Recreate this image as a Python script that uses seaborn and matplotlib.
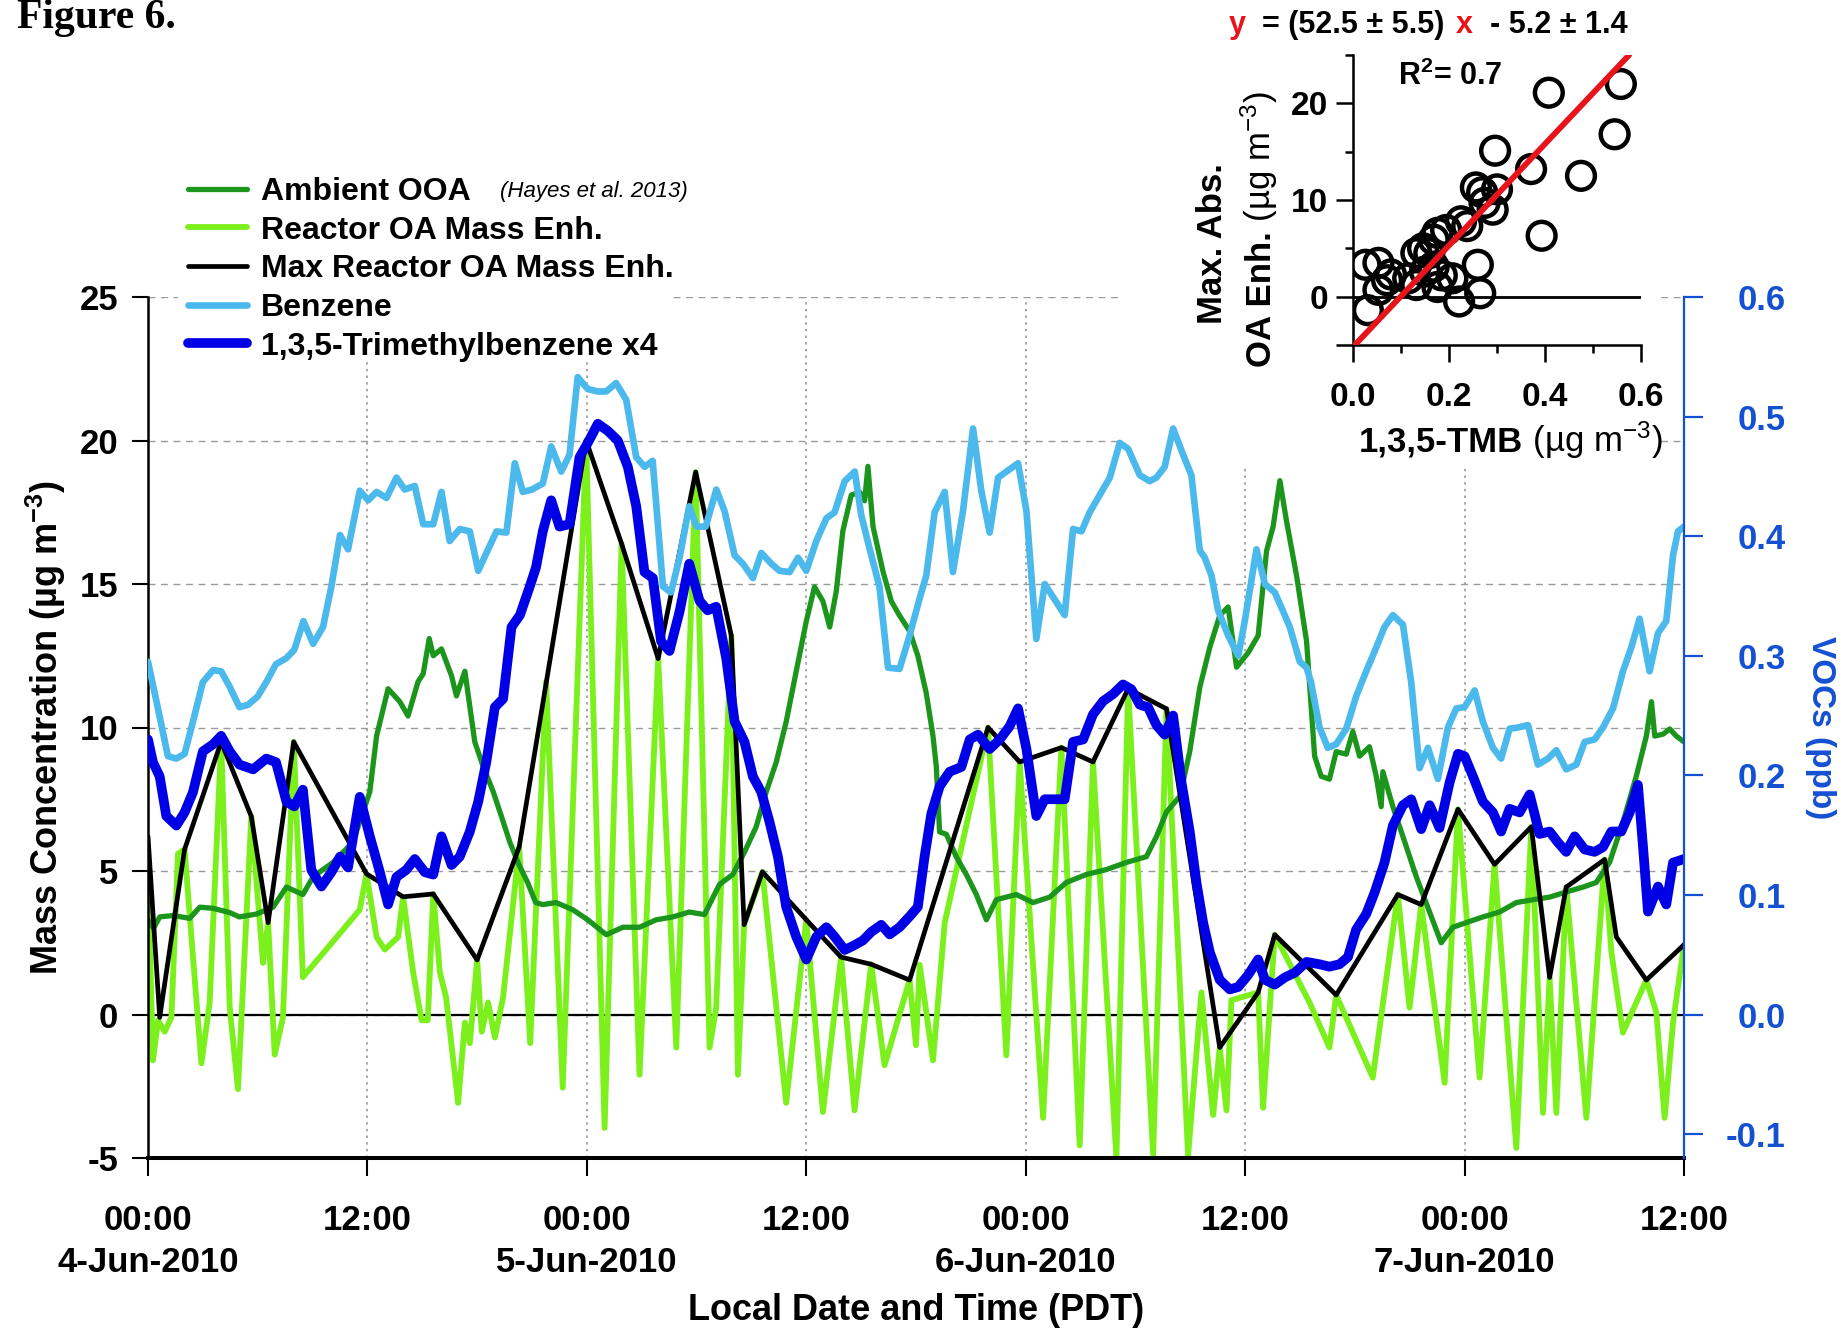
import numpy as np
import pandas as pd
import matplotlib
matplotlib.use("Agg")
import matplotlib.pyplot as plt
from matplotlib.patches import Rectangle
import seaborn as sns

# ---------------- time series (hours after 00:00 PDT, 4 June 2010) ----------------
# Ambient OOA, ug m-3
ooa_points = [
    (0.0, 3.3), (0.3, 3.0), (0.64, 3.4), (1.37, 3.45), (2.28, 3.35), (2.83, 3.74), (3.56, 3.7), (4.47, 3.55),
    (5.0, 3.4), (5.93, 3.5), (6.84, 3.74), (7.57, 4.44), (8.47, 4.18), (9.03, 4.8), (10.12, 5.3), (11.2, 6.0),
    (12.13, 7.76), (12.5, 9.7), (13.13, 11.35), (13.77, 10.9), (14.22, 10.4), (14.77, 11.6), (15.05, 11.87),
    (15.38, 13.1), (15.6, 12.5), (16.05, 12.74), (16.6, 11.8), (16.87, 11.1), (17.33, 11.96), (17.87, 9.5),
    (18.33, 8.64), (18.88, 7.76), (19.33, 6.9), (19.79, 6.0), (20.3, 5.2), (20.76, 4.6), (21.2, 3.9),
    (21.59, 3.83), (22.32, 3.9), (23.23, 3.65), (24.05, 3.3), (25.06, 2.78), (25.97, 3.04), (26.88, 3.04),
    (27.79, 3.3), (28.7, 3.4), (29.6, 3.57), (30.43, 3.48), (31.25, 4.53), (31.98, 4.88), (32.62, 5.66),
    (33.26, 6.54), (33.81, 7.76), (34.36, 8.8), (34.9, 10.2), (35.45, 11.96), (36.0, 13.7), (36.45, 14.9),
    (36.91, 14.4), (37.28, 13.5), (37.64, 14.75), (38.0, 16.85), (38.46, 18.1), (38.92, 18.2), (39.19, 17.9),
    (39.37, 19.1), (39.65, 17.0), (40.19, 15.45), (40.65, 14.4), (41.1, 13.9), (41.65, 13.36), (42.1, 12.5),
    (42.56, 11.2), (42.93, 9.7), (43.11, 8.64), (43.29, 6.36), (43.66, 6.28), (44.2, 5.5), (44.75, 4.88),
    (45.3, 4.18), (45.85, 3.3), (46.39, 4.0), (47.49, 4.18), (48.4, 3.9), (49.31, 4.09), (50.22, 4.6),
    (51.32, 4.88), (52.41, 5.05), (53.51, 5.3), (54.6, 5.5), (55.15, 6.2), (55.7, 7.06), (56.43, 7.6),
    (56.97, 9.16), (57.52, 11.4), (58.07, 12.8), (58.61, 13.9), (59.07, 14.2), (59.53, 12.1), (60.16, 12.6),
    (60.71, 13.2), (61.17, 16.15), (61.53, 17.0), (61.9, 18.6), (62.26, 17.2), (62.81, 15.3), (63.36, 13.0),
    (63.8, 9.0), (64.16, 8.3), (64.61, 8.2), (64.98, 9.16), (65.53, 9.07), (65.89, 9.86), (66.26, 9.0),
    (66.8, 9.33), (67.17, 8.3), (67.44, 7.24), (67.53, 8.46), (68.08, 7.24), (68.63, 6.2), (69.36, 4.8),
    (70.09, 3.57), (70.72, 2.5), (71.36, 3.04), (72.09, 3.2), (73.0, 3.4), (73.91, 3.57), (74.83, 3.9),
    (75.74, 4.0), (76.65, 4.09), (77.56, 4.27), (78.48, 4.44), (79.2, 4.6), (79.93, 5.3), (80.66, 6.7),
    (81.39, 8.3), (81.94, 9.7), (82.22, 10.9), (82.4, 9.7), (82.86, 9.77), (83.22, 9.95), (83.58, 9.7),
    (84.0, 9.5),
]

# Reactor OA mass enhancement, ug m-3
reactor_points = [
    (0.0, 5.0), (0.27, -1.6), (0.55, -0.2), (0.91, -0.6), (1.28, -0.1), (1.64, 5.6), (2.0, 5.75), (2.46, 2.0),
    (2.92, -1.7), (3.37, 0.4), (4.0, 9.5), (4.47, 0.24), (4.92, -2.6), (5.65, 6.9), (6.29, 1.8), (6.57, 3.2),
    (6.93, -1.4), (7.38, -0.1), (7.97, 9.5), (8.47, 1.3), (11.58, 3.65), (11.95, 4.9), (12.5, 2.7),
    (12.95, 2.26), (13.68, 2.7), (13.95, 4.1), (14.5, 1.47), (14.96, -0.2), (15.3, -0.2), (15.6, 4.2),
    (15.96, 1.47), (16.3, 0.6), (16.96, -3.08), (17.33, -0.28), (17.6, -1.0), (18.0, 1.9), (18.25, -0.6),
    (18.6, 0.42), (18.97, -0.8), (19.42, 0.6), (20.3, 5.84), (20.9, -1.0), (21.77, 11.6), (22.68, -2.55),
    (23.96, 20.0), (24.97, -3.95), (25.9, 16.4), (26.88, -2.1), (27.9, 12.4), (28.89, -1.15), (29.95, 18.9),
    (30.71, -1.15), (31.07, 0.24), (31.9, 13.2), (32.26, -2.1), (32.6, 3.13), (33.6, 4.97), (34.9, -3.08),
    (36.0, 3.3), (36.91, -3.4), (37.9, 2.0), (38.64, -3.34), (39.55, 1.75), (40.28, -1.77), (41.65, 1.2),
    (42.0, -1.07), (42.2, 1.73), (42.93, -1.6), (43.57, 3.2), (45.94, 10.0), (46.94, -1.42), (47.67, 8.8),
    (48.95, -3.6), (49.95, 9.3), (50.95, -4.56), (51.68, 8.8), (52.96, -5.0), (53.6, 11.35), (54.97, -4.9),
    (55.7, 10.65), (56.88, -4.9), (57.61, 0.77), (58.25, -3.5), (58.61, -1.15), (58.98, -3.34), (59.25, 0.5),
    (60.71, 0.77), (60.98, -3.25), (61.62, 2.78), (63.52, 0.42), (64.61, -1.15), (64.98, 0.68), (65.89, -0.63),
    (66.98, -2.2), (68.35, 4.18), (68.99, 0.24), (69.63, 3.83), (70.91, -2.38), (71.64, 7.15), (72.82, -2.2),
    (73.64, 5.23), (74.83, -4.65), (75.65, 6.54), (76.29, -3.43), (76.65, 1.29), (77.02, -3.43), (77.56, 4.44),
    (78.66, -3.6), (79.66, 5.4), (80.03, 2.17), (80.66, -0.63), (81.94, 1.2), (82.49, 0.07), (82.94, -3.6),
    (83.4, -0.28), (84.0, 2.43),
]

# Maximum reactor OA mass enhancement, ug m-3
max_points = [
    (0.0, 6.2), (0.64, -0.1), (2.0, 5.75), (4.0, 9.5), (5.65, 6.9), (6.57, 3.2), (7.97, 9.5), (11.95, 4.9),
    (13.95, 4.1), (15.6, 4.2), (18.0, 1.9), (20.3, 5.84), (23.96, 20.0), (25.9, 16.4), (27.9, 12.4),
    (29.95, 18.9), (31.9, 13.2), (32.6, 3.13), (33.6, 4.97), (36.0, 3.3), (37.9, 2.0), (39.55, 1.75),
    (41.65, 1.2), (45.94, 10.0), (47.67, 8.8), (49.95, 9.3), (51.68, 8.8), (53.6, 11.35), (55.7, 10.65),
    (58.61, -1.15), (60.71, 0.77), (61.62, 2.78), (64.98, 0.68), (68.35, 4.18), (69.63, 3.83), (71.64, 7.15),
    (73.64, 5.23), (75.65, 6.54), (76.65, 1.29), (77.56, 4.44), (79.66, 5.4), (80.3, 2.7), (81.94, 1.2),
    (84.0, 2.43),
]

# Benzene, ppb
benzene_points = [
    (0.0, 0.295), (0.46, 0.262), (1.09, 0.216), (1.55, 0.214), (2.0, 0.218), (2.46, 0.245), (3.0, 0.278),
    (3.56, 0.288), (4.0, 0.287), (4.47, 0.274), (5.0, 0.257), (5.47, 0.259), (6.0, 0.266), (6.47, 0.278),
    (7.0, 0.293), (7.57, 0.298), (8.0, 0.305), (8.5, 0.329), (9.03, 0.310), (9.57, 0.324), (10.03, 0.358),
    (10.5, 0.401), (10.94, 0.389), (11.58, 0.438), (12.04, 0.430), (12.5, 0.437), (13.04, 0.432),
    (13.59, 0.449), (14.04, 0.439), (14.59, 0.442), (15.05, 0.410), (15.6, 0.410), (16.05, 0.437),
    (16.5, 0.396), (17.05, 0.406), (17.6, 0.404), (18.06, 0.371), (18.6, 0.389), (19.06, 0.404),
    (19.6, 0.403), (20.06, 0.461), (20.5, 0.437), (21.0, 0.439), (21.59, 0.444), (22.05, 0.475),
    (22.6, 0.454), (23.05, 0.468), (23.5, 0.533), (24.05, 0.523), (24.6, 0.521), (25.06, 0.521),
    (25.6, 0.528), (26.15, 0.514), (26.7, 0.466), (27.16, 0.458), (27.6, 0.463), (28.16, 0.358),
    (28.6, 0.353), (29.07, 0.382), (29.6, 0.425), (30.0, 0.408), (30.5, 0.408), (31.08, 0.439),
    (31.53, 0.421), (32.08, 0.384), (32.53, 0.377), (33.08, 0.365), (33.54, 0.386), (34.09, 0.377),
    (34.54, 0.371), (35.09, 0.370), (35.55, 0.382), (36.0, 0.371), (36.55, 0.396), (37.1, 0.415),
    (37.55, 0.420), (38.1, 0.446), (38.65, 0.454), (39.0, 0.418), (39.47, 0.389), (40.0, 0.358),
    (40.47, 0.290), (41.1, 0.289), (41.65, 0.317), (42.2, 0.348), (42.56, 0.367), (43.02, 0.420),
    (43.57, 0.437), (44.02, 0.370), (44.57, 0.421), (45.12, 0.490), (45.57, 0.438), (46.03, 0.403),
    (46.49, 0.449), (47.58, 0.461), (48.04, 0.421), (48.58, 0.314), (49.04, 0.360), (50.13, 0.334),
    (50.59, 0.406), (51.05, 0.404), (51.5, 0.420), (52.6, 0.449), (53.14, 0.478), (53.6, 0.473),
    (54.24, 0.451), (54.78, 0.446), (55.15, 0.449), (55.6, 0.458), (56.06, 0.490), (56.61, 0.468),
    (57.06, 0.451), (57.52, 0.388), (57.79, 0.382), (58.16, 0.367), (58.52, 0.338), (59.07, 0.317),
    (59.62, 0.300), (59.98, 0.329), (60.62, 0.389), (61.08, 0.360), (61.62, 0.353), (62.08, 0.337),
    (62.44, 0.324), (62.99, 0.295), (63.36, 0.290), (63.6, 0.278), (64.07, 0.240), (64.52, 0.223),
    (64.98, 0.226), (65.53, 0.239), (66.07, 0.266), (66.62, 0.287), (67.17, 0.307), (67.62, 0.324),
    (68.08, 0.334), (68.63, 0.326), (69.08, 0.278), (69.54, 0.206), (70.0, 0.223), (70.54, 0.197),
    (71.09, 0.240), (71.55, 0.256), (72.0, 0.257), (72.55, 0.271), (73.0, 0.245), (73.55, 0.223),
    (74.0, 0.214), (74.46, 0.239), (74.92, 0.240), (75.47, 0.242), (76.01, 0.209), (76.56, 0.214),
    (77.02, 0.221), (77.56, 0.205), (78.11, 0.209), (78.57, 0.228), (79.11, 0.230), (79.57, 0.240),
    (80.12, 0.256), (80.66, 0.287), (81.12, 0.307), (81.57, 0.331), (82.12, 0.287), (82.58, 0.319),
    (83.03, 0.329), (83.4, 0.384), (83.67, 0.404), (84.0, 0.408),
]

# 1,3,5-trimethylbenzene multiplied by 4, ppb
tmb_x4_points = [
    (0.0, 0.230), (0.27, 0.211), (0.64, 0.199), (1.0, 0.166), (1.55, 0.158), (2.0, 0.169), (2.46, 0.186),
    (3.0, 0.220), (3.56, 0.226), (4.0, 0.233), (4.47, 0.220), (5.0, 0.209), (5.75, 0.205), (6.47, 0.214),
    (7.0, 0.211), (7.57, 0.178), (8.0, 0.174), (8.47, 0.188), (8.93, 0.121), (9.48, 0.107), (10.03, 0.119),
    (10.5, 0.132), (10.94, 0.123), (11.58, 0.182), (12.13, 0.149), (12.68, 0.119), (13.13, 0.092),
    (13.59, 0.115), (14.13, 0.121), (14.59, 0.130), (15.14, 0.119), (15.6, 0.117), (16.05, 0.149),
    (16.6, 0.125), (17.05, 0.132), (17.6, 0.153), (18.06, 0.178), (18.5, 0.211), (18.97, 0.257),
    (19.42, 0.264), (19.88, 0.324), (20.34, 0.334), (20.88, 0.358), (21.22, 0.374), (21.59, 0.404),
    (22.05, 0.430), (22.5, 0.408), (23.05, 0.410), (23.6, 0.466), (24.05, 0.478), (24.6, 0.494),
    (25.15, 0.488), (25.69, 0.480), (26.24, 0.458), (26.7, 0.425), (27.15, 0.370), (27.61, 0.365),
    (28.06, 0.312), (28.52, 0.304), (29.07, 0.337), (29.6, 0.377), (30.16, 0.346), (30.6, 0.338),
    (31.07, 0.341), (31.62, 0.298), (32.08, 0.245), (32.62, 0.228), (33.08, 0.199), (33.54, 0.186),
    (33.99, 0.161), (34.45, 0.132), (34.9, 0.090), (35.45, 0.065), (36.0, 0.046), (36.55, 0.065),
    (37.1, 0.073), (37.55, 0.065), (38.1, 0.054), (38.64, 0.058), (39.1, 0.062), (39.55, 0.069),
    (40.1, 0.075), (40.56, 0.067), (41.1, 0.073), (41.65, 0.082), (42.1, 0.090), (42.47, 0.132),
    (42.84, 0.168), (43.3, 0.191), (43.84, 0.203), (44.48, 0.207), (44.94, 0.230), (45.39, 0.234),
    (46.03, 0.222), (46.58, 0.230), (47.12, 0.241), (47.58, 0.256), (48.04, 0.222), (48.58, 0.166),
    (49.04, 0.180), (50.13, 0.180), (50.59, 0.228), (51.14, 0.230), (51.68, 0.251), (52.23, 0.262),
    (52.78, 0.268), (53.32, 0.276), (53.78, 0.272), (54.24, 0.259), (54.69, 0.257), (55.15, 0.242),
    (55.6, 0.234), (56.06, 0.250), (56.52, 0.194), (56.97, 0.153), (57.34, 0.110), (57.7, 0.077),
    (58.07, 0.052), (58.61, 0.029), (59.16, 0.021), (59.62, 0.023), (60.16, 0.033), (60.71, 0.046),
    (61.08, 0.029), (61.62, 0.025), (62.17, 0.031), (62.72, 0.035), (63.36, 0.044), (64.07, 0.042),
    (64.61, 0.040), (65.16, 0.042), (65.62, 0.048), (66.07, 0.071), (66.62, 0.084), (67.08, 0.102),
    (67.62, 0.127), (68.08, 0.158), (68.63, 0.175), (69.08, 0.180), (69.63, 0.155), (70.09, 0.175),
    (70.63, 0.156), (71.18, 0.194), (71.64, 0.218), (72.0, 0.216), (72.46, 0.199), (73.0, 0.178),
    (73.55, 0.169), (74.0, 0.153), (74.46, 0.172), (75.01, 0.169), (75.56, 0.184), (76.1, 0.151),
    (76.65, 0.153), (77.1, 0.144), (77.56, 0.136), (78.02, 0.149), (78.57, 0.138), (79.11, 0.136),
    (79.57, 0.140), (80.03, 0.153), (80.57, 0.153), (81.03, 0.169), (81.48, 0.192), (81.76, 0.140),
    (82.03, 0.086), (82.58, 0.107), (83.03, 0.092), (83.4, 0.127), (84.0, 0.130),
]

# ---------------- inset: max OA enhancement vs 1,3,5-TMB ----------------
inset_tmb_ug = [0.558, 0.408, 0.545, 0.296, 0.371, 0.475, 0.393, 0.256, 0.269, 0.300, 0.291, 0.274,
                0.238, 0.225, 0.194, 0.176, 0.168, 0.146, 0.132, 0.159, 0.260, 0.265, 0.221, 0.207,
                0.176, 0.132, 0.115, 0.079, 0.053, 0.026, 0.031, 0.053, 0.071, 0.168, 0.185, 0.150]
inset_enh_ug = [22.0, 21.1, 16.8, 15.1, 13.2, 12.5, 6.3, 11.3, 10.8, 11.1, 9.0, 9.7,
                7.3, 7.8, 6.9, 6.6, 5.9, 5.0, 4.5, 4.5, 3.3, 0.35, -0.5, 1.9,
                1.0, 1.2, 1.9, 2.3, 3.5, 3.3, -1.4, 0.7, 1.7, 3.1, 2.2, 2.6]
fit_slope, fit_slope_err = 52.5, 5.5
fit_intercept, fit_intercept_err = -5.2, 1.4
fit_r2 = 0.7

tick_hours = [0, 12, 24, 36, 48, 60, 72, 84]
tick_labels = ["00:00\n4-Jun-2010", "12:00", "00:00\n5-Jun-2010", "12:00",
               "00:00\n6-Jun-2010", "12:00", "00:00\n7-Jun-2010", "12:00"]
mass_ticks = [-5, 0, 5, 10, 15, 20, 25]
voc_ticks = [-0.1, 0.0, 0.1, 0.2, 0.3, 0.4, 0.5, 0.6]

# ---------------- style ----------------
OOA_C = "#1b951b"
LIME_C = "#7cf01c"
BENZ_C = "#4cb9ec"
TMB_C = "#0000e6"
VOC_C = "#1450d2"
RED_C = "#e8141c"

sns.set_theme(style="ticks")
plt.rcParams.update({
    "font.family": ["Liberation Sans", "DejaVu Sans"],
    "font.weight": "bold",
    "mathtext.fontset": "custom",
    "mathtext.rm": "Liberation Sans",
    "mathtext.it": "Liberation Sans:italic",
    "mathtext.bf": "Liberation Sans:bold",
    "mathtext.default": "regular",
    "axes.unicode_minus": False,
    "text.color": "black",
    "axes.labelcolor": "black",
    "axes.edgecolor": "black",
    "xtick.color": "black",
    "ytick.color": "black",
})

W, H = 1843, 1331


def fx(px):
    return px / W


def fy(py):
    return 1 - py / H


fig = plt.figure(figsize=(W / 100, H / 100), dpi=100)
ax = fig.add_axes([fx(148), fy(1158), fx(1684) - fx(148), fy(297) - fy(1158)])

ax.set_xlim(0, 84)
ax.set_ylim(-5, 25)
ax.set_axisbelow(True)
ax.yaxis.grid(True, color="#9a9a9a", linestyle=(0, (5, 4)), linewidth=1.0)
ax.xaxis.grid(True, color="#9a9a9a", linestyle=(0, (1.5, 2.5)), linewidth=1.2)

# white blocks behind the legend and the inset hide the grid there
for x0, y0, x1, y1 in [(178, 150, 668, 360), (1118, 0, 1657, 465)]:
    ax.add_patch(Rectangle((fx(x0), fy(y1)), fx(x1) - fx(x0), fy(y0) - fy(y1),
                           transform=fig.transFigure, facecolor="white",
                           edgecolor="none", zorder=1))

ax.axhline(0, color="black", lw=1.6, zorder=1.5)


def series(points, col):
    return pd.DataFrame(points, columns=["hours", col])


line_kw = dict(estimator=None, sort=False, legend=False)
sns.lineplot(data=series(reactor_points, "ug"), x="hours", y="ug", ax=ax,
             color=LIME_C, linewidth=4.2, zorder=2, **line_kw)
h_reactor = ax.lines[-1]
sns.lineplot(data=series(ooa_points, "ug"), x="hours", y="ug", ax=ax,
             color=OOA_C, linewidth=3.8, zorder=2.1, **line_kw)
h_ooa = ax.lines[-1]
sns.lineplot(data=series(max_points, "ug"), x="hours", y="ug", ax=ax,
             color="black", linewidth=3.4, zorder=2.2, **line_kw)
h_max = ax.lines[-1]

twin = ax.twinx()
twin.set_ylim(-0.12, 0.6)
sns.lineplot(data=series(benzene_points, "ppb"), x="hours", y="ppb", ax=twin,
             color=BENZ_C, linewidth=4.8, zorder=2, **line_kw)
h_benz = twin.lines[-1]
sns.lineplot(data=series(tmb_x4_points, "ppb"), x="hours", y="ppb", ax=twin,
             color=TMB_C, linewidth=7.0, zorder=2.1, **line_kw)
h_tmb = twin.lines[-1]

# axes, ticks and labels
ax.set_xticks(tick_hours, tick_labels)
ax.set_yticks(mass_ticks)
ax.tick_params(axis="x", direction="out", length=13, width=1.5, pad=20,
               labelsize=25, bottom=True, top=False)
ax.tick_params(axis="y", direction="out", length=11.5, width=1.5, pad=10,
               labelsize=25, left=True, right=False)
for lab in ax.get_xticklabels():
    lab.set_fontweight("bold")
    lab.set_linespacing(1.35)
for lab in ax.get_yticklabels():
    lab.set_fontweight("bold")

for side in ("top", "right"):
    ax.spines[side].set_visible(False)
ax.spines["left"].set_linewidth(1.8)
ax.spines["bottom"].set_linewidth(2.9)

twin.set_yticks(voc_ticks, [f"{v:.1f}" for v in voc_ticks])
twin.tick_params(axis="y", colors=VOC_C, direction="out", length=14, width=1.6,
                 pad=59, labelsize=25, right=True, left=False)
for lab in twin.get_yticklabels():
    lab.set_horizontalalignment("right")
    lab.set_fontweight("bold")
for side in ("top", "left", "bottom"):
    twin.spines[side].set_visible(False)
twin.spines["right"].set_color(VOC_C)
twin.spines["right"].set_linewidth(1.6)

ax.set_xlabel("Local Date and Time (PDT)", fontsize=26, fontweight="bold", labelpad=10)
ax.set_ylabel("Mass Concentration (µg m$^{-3}$)", fontsize=26, fontweight="bold", labelpad=8)
twin.set_ylabel("VOCs (ppb)", fontsize=24, fontweight="bold", color=VOC_C,
                rotation=270, va="bottom", labelpad=14)

# legend
fig.legend(handles=[h_ooa, h_reactor, h_max, h_benz, h_tmb],
           labels=["Ambient OOA", "Reactor OA Mass Enh.", "Max Reactor OA Mass Enh.",
                   "Benzene", "1,3,5-Trimethylbenzene x4"],
           loc="upper left", bbox_to_anchor=(fx(188), fy(177)), frameon=False,
           prop={"weight": "bold", "size": 23}, handlelength=1.85,
           handletextpad=0.44, labelspacing=0.27, borderpad=0, borderaxespad=0)
fig.text(fx(500), fy(192), "(Hayes et al. 2013)", fontsize=16, style="italic",
         fontweight="normal", va="center", ha="left")

# ---------------- inset scatter ----------------
ins = fig.add_axes([fx(1353), fy(345), fx(1641) - fx(1353), fy(55) - fy(345)])
ins.set_xlim(0, 0.6)
ins.set_ylim(-5, 25)
ins.axhline(0, color="black", lw=2.0, zorder=1)
sns.scatterplot(x=inset_tmb_ug, y=inset_enh_ug, ax=ins, s=400, marker="o",
                facecolor="none", edgecolor="black", linewidth=3.2, zorder=2, legend=False)
ins.axline((0, fit_intercept), slope=fit_slope, color=RED_C, lw=4.2, zorder=3)

ins.set_xticks([0, 0.2, 0.4, 0.6], ["0.0", "0.2", "0.4", "0.6"])
ins.set_xticks([0.1, 0.3, 0.5], minor=True)
ins.set_yticks([-5, 0, 10, 20], ["", "0", "10", "20"])
ins.set_yticks([5, 15, 25], minor=True)
ins.tick_params(which="major", direction="out", length=12, width=1.8, labelsize=24,
                bottom=True, left=True)
ins.tick_params(which="minor", direction="out", length=6, width=1.8, bottom=True, left=True)
ins.tick_params(axis="x", which="major", pad=15)
ins.tick_params(axis="y", which="major", pad=6)
for lab in ins.get_xticklabels() + ins.get_yticklabels():
    lab.set_fontweight("bold")
for side in ("top", "right"):
    ins.spines[side].set_visible(False)
ins.spines["left"].set_linewidth(1.8)
ins.spines["bottom"].set_linewidth(1.8)
ins.set_xlabel("")
ins.set_ylabel("")

fig.text(fx(1213), fy(244), "Max. Abs.", rotation=90, ha="center", va="center",
         fontsize=25, fontweight="bold")
fig.text(fx(1271), fy(231), "OA Enh.", rotation=90, rotation_mode="anchor",
         ha="right", va="baseline", fontsize=25, fontweight="bold")
fig.text(fx(1271), fy(231), " (µg m$^{-3}$)", rotation=90, rotation_mode="anchor",
         ha="left", va="baseline", fontsize=25, fontweight="normal")
fig.text(fx(1523), fy(452), "1,3,5-TMB", ha="right", va="baseline",
         fontsize=25, fontweight="bold")
fig.text(fx(1523), fy(452), " (µg m$^{-3}$)", ha="left", va="baseline",
         fontsize=25, fontweight="normal")

eq_base = fy(33)
fig.text(fx(1229), eq_base, "y", color=RED_C, fontsize=22, fontweight="bold", va="baseline")
fig.text(fx(1262), eq_base, f"= ({fit_slope:.1f} ± {fit_slope_err:.1f})",
         fontsize=22, fontweight="bold", va="baseline")
fig.text(fx(1456), eq_base, "x", color=RED_C, fontsize=22, fontweight="bold", va="baseline")
fig.text(fx(1490), eq_base, f"- {abs(fit_intercept):.1f} ± {fit_intercept_err:.1f}",
         fontsize=22, fontweight="bold", va="baseline")
fig.text(fx(1398), fy(85), f"R$^2$= {fit_r2:.1f}", fontsize=22, fontweight="bold",
         va="baseline")

fig.text(fx(17), fy(28), "Figure 6.", family="Liberation Serif", fontsize=30,
         fontweight="bold", va="baseline")

fig.savefig("out.png", dpi=100)
